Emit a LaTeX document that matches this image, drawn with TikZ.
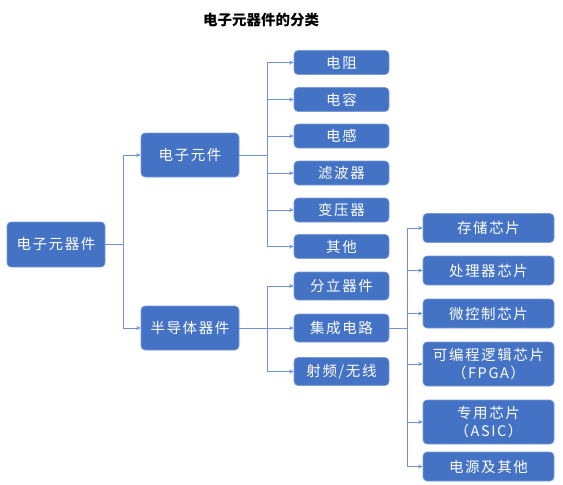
\documentclass[tikz,border=0pt]{standalone}
\usepackage{fontspec}
\setmainfont{Noto Sans CJK SC}
\newfontfamily\boxfont{Noto Sans CJK SC}[LetterSpace=11]
\usetikzlibrary{arrows.meta}
\definecolor{boxblue}{HTML}{4472C4}
\definecolor{lineblue}{HTML}{6F93D6}
\begin{document}
\begin{tikzpicture}[x=1pt,y=-1pt,
  box/.style={draw=boxblue!70!white,line width=0.6pt,fill=boxblue,rounded corners=4pt,
    text=white,font=\boxfont\fontsize{14.5}{18}\selectfont,align=center,inner sep=0pt},
  conn/.style={draw=lineblue,line width=0.9pt},
  arr/.style={conn,-{Stealth[length=4.5pt,width=4pt]}}]
\useasboundingbox (0,0) rectangle (563,485);
\node[font=\bfseries\fontsize{14.5}{16}\selectfont] (title) at (261,20.5) {电子元器件的分类};
% root and level 1
\node[box,minimum width=98pt,minimum height=45pt] (root) at (56,244.5) {电子元器件};
\node[box,minimum width=98pt,minimum height=44pt] (yj) at (190,155) {电子元件};
\node[box,minimum width=98pt,minimum height=44pt] (bd) at (190,328) {半导体器件};
% electronic components leaves
\node[box,minimum width=95pt,minimum height=24pt] (a1) at (341.5,62.5) {电阻};
\node[box,minimum width=95pt,minimum height=24pt] (a2) at (341.5,99.5) {电容};
\node[box,minimum width=95pt,minimum height=24pt] (a3) at (341.5,136) {电感};
\node[box,minimum width=95pt,minimum height=24pt] (a4) at (341.5,173) {滤波器};
\node[box,minimum width=95pt,minimum height=24pt] (a5) at (341.5,210) {变压器};
\node[box,minimum width=95pt,minimum height=24pt] (a6) at (341.5,246.5) {其他};
% semiconductor leaves
\node[box,minimum width=95pt,minimum height=28pt] (b1) at (341.5,286) {分立器件};
\node[box,minimum width=95pt,minimum height=28pt] (b2) at (341.5,328) {集成电路};
\node[box,minimum width=95pt,minimum height=28pt] (b3) at (341.5,371.5) {射频/无线};
% IC leaves
\node[box,minimum width=131pt,minimum height=29pt] (c1) at (488.5,228) {存储芯片};
\node[box,minimum width=131pt,minimum height=29pt] (c2) at (488.5,270.5) {处理器芯片};
\node[box,minimum width=131pt,minimum height=29pt] (c3) at (488.5,313.5) {微控制芯片};
\node[box,minimum width=131pt,minimum height=44pt] (c4) at (488.5,364) {可编程逻辑芯片\\（FPGA）};
\node[box,minimum width=131pt,minimum height=44pt] (c5) at (488.5,422) {专用芯片\\（ASIC）};
\node[box,minimum width=131pt,minimum height=29pt] (c6) at (488.5,466.5) {电源及其他};
% junctions
\coordinate (j0) at (123,244.5);
\coordinate (j1) at (267,155);
\coordinate (j2) at (267,328);
\coordinate (j3) at (407,328);
% connectors
\draw[conn] (root.east) -- (j0);
\draw[arr] (j0) |- (yj.west);
\draw[arr] (j0) |- (bd.west);
\draw[conn] (yj.east) -- (j1);
\foreach \n in {a1,a2,a3,a4,a5,a6} \draw[arr] (j1) |- (\n.west);
\draw[conn] (bd.east) -- (j2);
\foreach \n in {b1,b2,b3} \draw[arr] (j2) |- (\n.west);
\draw[conn] (b2.east) -- (j3);
\foreach \n in {c1,c2,c3,c4,c5,c6} \draw[arr] (j3) |- (\n.west);
\end{tikzpicture}
\end{document}
